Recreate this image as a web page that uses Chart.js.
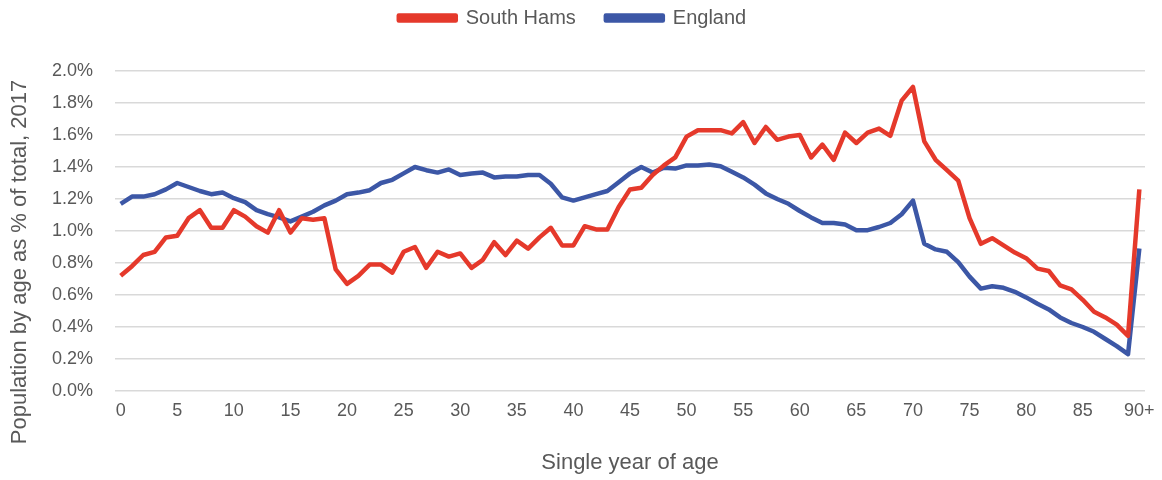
<!DOCTYPE html>
<html>
<head>
<meta charset="utf-8">
<script src="https://cdn.jsdelivr.net/npm/chart.js@4"></script>
<style>
  html, body { margin: 0; padding: 0; background: #fff; }
  #wrap { width: 1162px; height: 480px; }
</style>
</head>
<body>
<div id="wrap"><canvas id="ageChart" width="1162" height="480"></canvas></div>
<script>
// Età singole 0..89 e poi 90+
const ages = [];
for (let a = 0; a < 90; a++) ages.push(String(a));
ages.push('90+');

// Valori (% della popolazione totale)
const southHams = [
  0.72, 0.78, 0.85, 0.87, 0.96, 0.97, 1.08, 1.13, 1.02, 1.02,
  1.13, 1.09, 1.03, 0.99, 1.13, 0.99, 1.08, 1.07, 1.08, 0.76,
  0.67, 0.72, 0.79, 0.79, 0.74, 0.87, 0.90, 0.77, 0.87, 0.84,
  0.86, 0.77, 0.82, 0.93, 0.85, 0.94, 0.89, 0.96, 1.02, 0.91,
  0.91, 1.03, 1.01, 1.01, 1.15, 1.26, 1.27, 1.35, 1.41, 1.46,
  1.59, 1.63, 1.63, 1.63, 1.61, 1.68, 1.55, 1.65, 1.57, 1.59,
  1.60, 1.46, 1.54, 1.445, 1.615, 1.55, 1.615, 1.64, 1.595, 1.815,
  1.90, 1.56, 1.445, 1.38, 1.315, 1.08, 0.92, 0.955, 0.91, 0.865,
  0.83, 0.765, 0.75, 0.66, 0.635, 0.57, 0.495, 0.46, 0.415, 0.345,
  1.26
];
const england = [
  1.17, 1.215, 1.215, 1.23, 1.26, 1.30, 1.275, 1.25, 1.23, 1.24,
  1.205, 1.18, 1.13, 1.105, 1.085, 1.06, 1.09, 1.12, 1.16, 1.19,
  1.23, 1.24, 1.255, 1.30, 1.32, 1.36, 1.40, 1.38, 1.365, 1.385,
  1.35, 1.36, 1.365, 1.335, 1.34, 1.34, 1.35, 1.35, 1.295, 1.21,
  1.19, 1.21, 1.23, 1.25, 1.305, 1.36, 1.40, 1.365, 1.395, 1.39,
  1.41, 1.41, 1.415, 1.405, 1.37, 1.335, 1.29, 1.235, 1.20, 1.17,
  1.125, 1.085, 1.05, 1.05, 1.04, 1.005, 1.005, 1.025, 1.05, 1.105,
  1.19, 0.92, 0.885, 0.87, 0.805, 0.715, 0.64, 0.655, 0.645, 0.62,
  0.585, 0.545, 0.51, 0.46, 0.425, 0.40, 0.37, 0.325, 0.28, 0.23,
  0.89
];
const yTicks = [0, 0.2, 0.4, 0.6, 0.8, 1.0, 1.2, 1.4, 1.6, 1.8, 2.0];
const yTitle = 'Population by age as % of total, 2017';

const txtColor = '#595959';
const fontFam = '"Liberation Sans", Arial, sans-serif';

// Aggiunge spazio sotto la legenda
const legendSpace = {
  id: 'legendSpace',
  beforeInit(chart) {
    const origFit = chart.legend.fit;
    chart.legend.fit = function () {
      origFit.bind(chart.legend)();
      this.height += 33;
    };
  }
};

// Titolo asse Y disegnato a mano (centrato come nell'originale)
const yTitlePlugin = {
  id: 'yTitlePlugin',
  afterDraw(chart) {
    const c = chart.ctx;
    c.save();
    c.translate(20, 262);
    c.rotate(-Math.PI / 2);
    c.fillStyle = txtColor;
    c.font = '22px ' + fontFam;
    c.textAlign = 'center';
    c.textBaseline = 'middle';
    c.fillText(yTitle, 0, 0);
    c.restore();
  }
};

const ctx = document.getElementById('ageChart').getContext('2d');
const ageChart = new Chart(ctx, {
  type: 'line',
  data: {
    labels: ages,
    datasets: [{
      label: 'South Hams',
      data: southHams,
      borderColor: '#e5392b',
      backgroundColor: '#e5392b',
      borderWidth: 4.5,
      pointRadius: 0,
      tension: 0,
      borderJoinStyle: 'round'
    }, {
      label: 'England',
      data: england,
      borderColor: '#3c57a6',
      backgroundColor: '#3c57a6',
      borderWidth: 4.5,
      pointRadius: 0,
      tension: 0,
      borderJoinStyle: 'round'
    }]
  },
  plugins: [legendSpace, yTitlePlugin],
  options: {
    responsive: false,
    animation: false,
    layout: { padding: { top: -22, right: 17, left: 0, bottom: 0 } },
    plugins: {
      legend: {
        display: true,
        position: 'top',
        labels: {
          boxWidth: 57,
          boxHeight: 5,
          padding: 30,
          color: txtColor,
          font: { family: fontFam, size: 20 }
        }
      },
      tooltip: { enabled: false }
    },
    scales: {
      x: {
        offset: true,
        grid: { display: false },
        border: { display: false },
        ticks: {
          autoSkip: false,
          maxRotation: 0,
          minRotation: 0,
          color: txtColor,
          font: { family: fontFam, size: 18 },
          padding: 1,
          callback: function (v, i) { return i % 5 === 0 ? ages[i] : ''; }
        },
        title: {
          display: true,
          text: 'Single year of age',
          color: txtColor,
          font: { family: fontFam, size: 22 },
          padding: { top: 14 }
        },
        afterFit: function (scale) { scale.height = 89; }
      },
      y: {
        min: 0,
        max: 2.0,
        afterBuildTicks: function (scale) {
          scale.ticks = yTicks.map(v => ({ value: v }));
        },
        grid: { color: '#d9d9d9', lineWidth: 1.5, drawTicks: false },
        border: { display: false },
        ticks: {
          color: txtColor,
          padding: 22,
          font: { family: fontFam, size: 18 },
          callback: function (v) { return v.toFixed(1) + '%'; }
        },
        afterFit: function (scale) { scale.width = 115; }
      }
    }
  }
});
</script>
</body>
</html>
